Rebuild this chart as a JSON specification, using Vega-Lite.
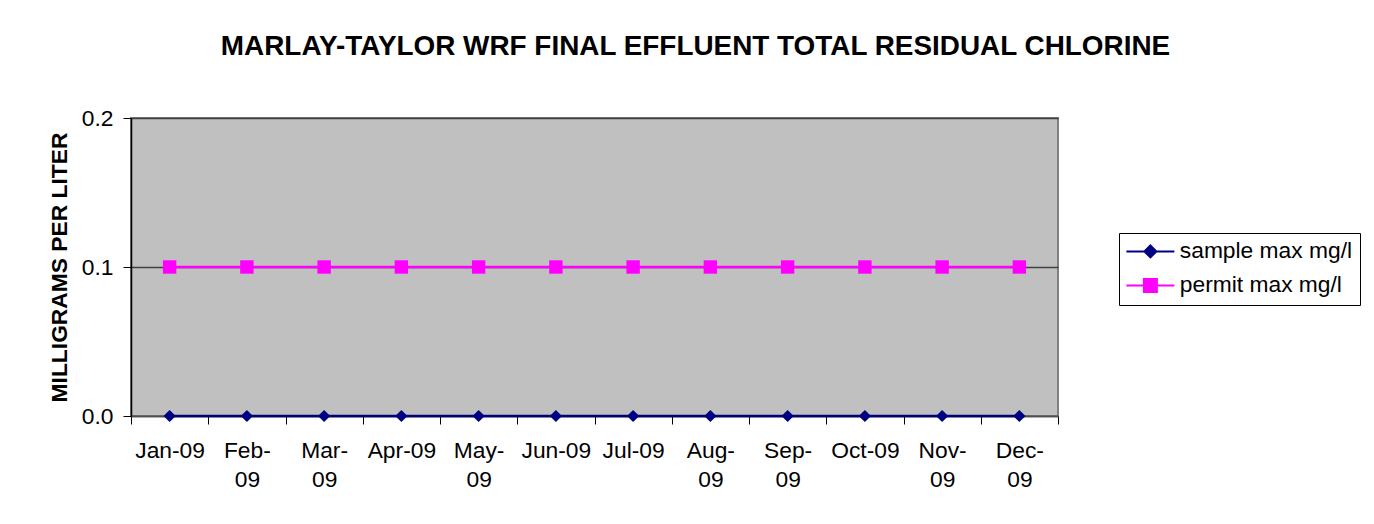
{
  "$schema": "https://vega.github.io/schema/vega-lite/v6.json",
  "width": 927,
  "height": 298,
  "autosize": {"type": "none"},
  "padding": {"left": 131, "top": 118, "right": 316, "bottom": 108},
  "background": "white",
  "title": {
    "text": "MARLAY-TAYLOR WRF FINAL EFFLUENT TOTAL RESIDUAL CHLORINE",
    "font": "Liberation Sans",
    "fontSize": 27.9,
    "fontWeight": "bold",
    "color": "black",
    "anchor": "middle",
    "frame": "group",
    "dx": 101,
    "offset": 46
  },
  "config": {
    "view": {"stroke": "#808080", "strokeWidth": 2, "fill": "#C0C0C0"},
    "font": "Liberation Sans"
  },
  "data": {
    "values": [
      {"month": "Jan-09", "series": "sample max mg/l", "value": 0},
      {"month": "Feb-09", "series": "sample max mg/l", "value": 0},
      {"month": "Mar-09", "series": "sample max mg/l", "value": 0},
      {"month": "Apr-09", "series": "sample max mg/l", "value": 0},
      {"month": "May-09", "series": "sample max mg/l", "value": 0},
      {"month": "Jun-09", "series": "sample max mg/l", "value": 0},
      {"month": "Jul-09", "series": "sample max mg/l", "value": 0},
      {"month": "Aug-09", "series": "sample max mg/l", "value": 0},
      {"month": "Sep-09", "series": "sample max mg/l", "value": 0},
      {"month": "Oct-09", "series": "sample max mg/l", "value": 0},
      {"month": "Nov-09", "series": "sample max mg/l", "value": 0},
      {"month": "Dec-09", "series": "sample max mg/l", "value": 0},
      {"month": "Jan-09", "series": "permit max mg/l", "value": 0.1},
      {"month": "Feb-09", "series": "permit max mg/l", "value": 0.1},
      {"month": "Mar-09", "series": "permit max mg/l", "value": 0.1},
      {"month": "Apr-09", "series": "permit max mg/l", "value": 0.1},
      {"month": "May-09", "series": "permit max mg/l", "value": 0.1},
      {"month": "Jun-09", "series": "permit max mg/l", "value": 0.1},
      {"month": "Jul-09", "series": "permit max mg/l", "value": 0.1},
      {"month": "Aug-09", "series": "permit max mg/l", "value": 0.1},
      {"month": "Sep-09", "series": "permit max mg/l", "value": 0.1},
      {"month": "Oct-09", "series": "permit max mg/l", "value": 0.1},
      {"month": "Nov-09", "series": "permit max mg/l", "value": 0.1},
      {"month": "Dec-09", "series": "permit max mg/l", "value": 0.1}
    ]
  },
  "encoding": {
    "x": {
      "field": "month",
      "type": "nominal",
      "sort": ["Jan-09", "Feb-09", "Mar-09", "Apr-09", "May-09", "Jun-09", "Jul-09", "Aug-09", "Sep-09", "Oct-09", "Nov-09", "Dec-09"],
      "scale": {"type": "band", "paddingInner": 0, "paddingOuter": 0},
      "axis": {
        "title": null,
        "labelAngle": 0,
        "labelFont": "Liberation Sans",
        "labelFontSize": 22.8,
        "labelColor": "black",
        "labelLineHeight": 29,
        "labelPadding": 15,
        "labelExpr": "indexof(['Feb-09','Mar-09','May-09','Aug-09','Sep-09','Nov-09','Dec-09'], datum.value) >= 0 ? [substring(datum.value, 0, 4), substring(datum.value, 4)] : datum.value",
        "tickBand": "extent",
        "tickSize": 8,
        "tickColor": "black",
        "domainColor": "#505050",
        "domainWidth": 1.5,
        "grid": false,
        "labelOverlap": false,
        "labelBound": false
      }
    },
    "y": {
      "field": "value",
      "type": "quantitative",
      "scale": {"domain": [0, 0.2], "nice": false},
      "axis": {
        "title": "MILLIGRAMS PER LITER",
        "titleFont": "Liberation Sans",
        "titleFontSize": 22.8,
        "titleFontWeight": "bold",
        "titleColor": "black",
        "titlePadding": 10,
        "values": [0, 0.1, 0.2],
        "format": ".1f",
        "labelFont": "Liberation Sans",
        "labelFontSize": 22.8,
        "labelColor": "black",
        "labelPadding": 10,
        "tickSize": 8,
        "tickColor": "black",
        "domainColor": "black",
        "domainWidth": 1.5,
        "grid": true,
        "gridColor": "#404040",
        "gridWidth": 1.5
      }
    },
    "color": {
      "field": "series",
      "type": "nominal",
      "scale": {"domain": ["sample max mg/l", "permit max mg/l"], "range": ["#000080", "#FF00FF"]},
      "legend": {
        "title": null,
        "orient": "none",
        "legendX": 988,
        "legendY": 115,
        "direction": "vertical",
        "strokeColor": "black",
        "fillColor": "white",
        "padding": 7,
        "rowPadding": 10,
        "labelFont": "Liberation Sans",
        "labelFontSize": 22.8,
        "labelColor": "black",
        "labelLimit": 0,
        "symbolSize": 400,
        "symbolStrokeWidth": 2,
        "symbolOffset": 13,
        "labelOffset": 18,
        "encode": {
          "symbols": {
            "update": {
              "shape": {"signal": "datum.value == 'sample max mg/l' ? 'M-2.4,0H2.4M0,-0.6L0.6,0L0,0.6L-0.6,0Z' : 'M-2.4,0H2.4M-0.65,-0.65H0.65V0.65H-0.65Z'"},
              "fill": {"signal": "datum.value == 'sample max mg/l' ? '#000080' : '#FF00FF'"},
              "stroke": {"signal": "datum.value == 'sample max mg/l' ? '#000080' : '#FF00FF'"},
              "opacity": {"value": 1}
            }
          }
        }
      }
    }
  },
  "layer": [
    {"mark": {"type": "line", "strokeWidth": 2.5}},
    {
      "transform": [{"filter": "datum.series == 'sample max mg/l'"}],
      "mark": {"type": "point", "shape": "diamond", "filled": true, "opacity": 1, "size": 150}
    },
    {
      "transform": [{"filter": "datum.series == 'permit max mg/l'"}],
      "mark": {"type": "point", "shape": "square", "filled": true, "opacity": 1, "size": 180}
    }
  ]
}
